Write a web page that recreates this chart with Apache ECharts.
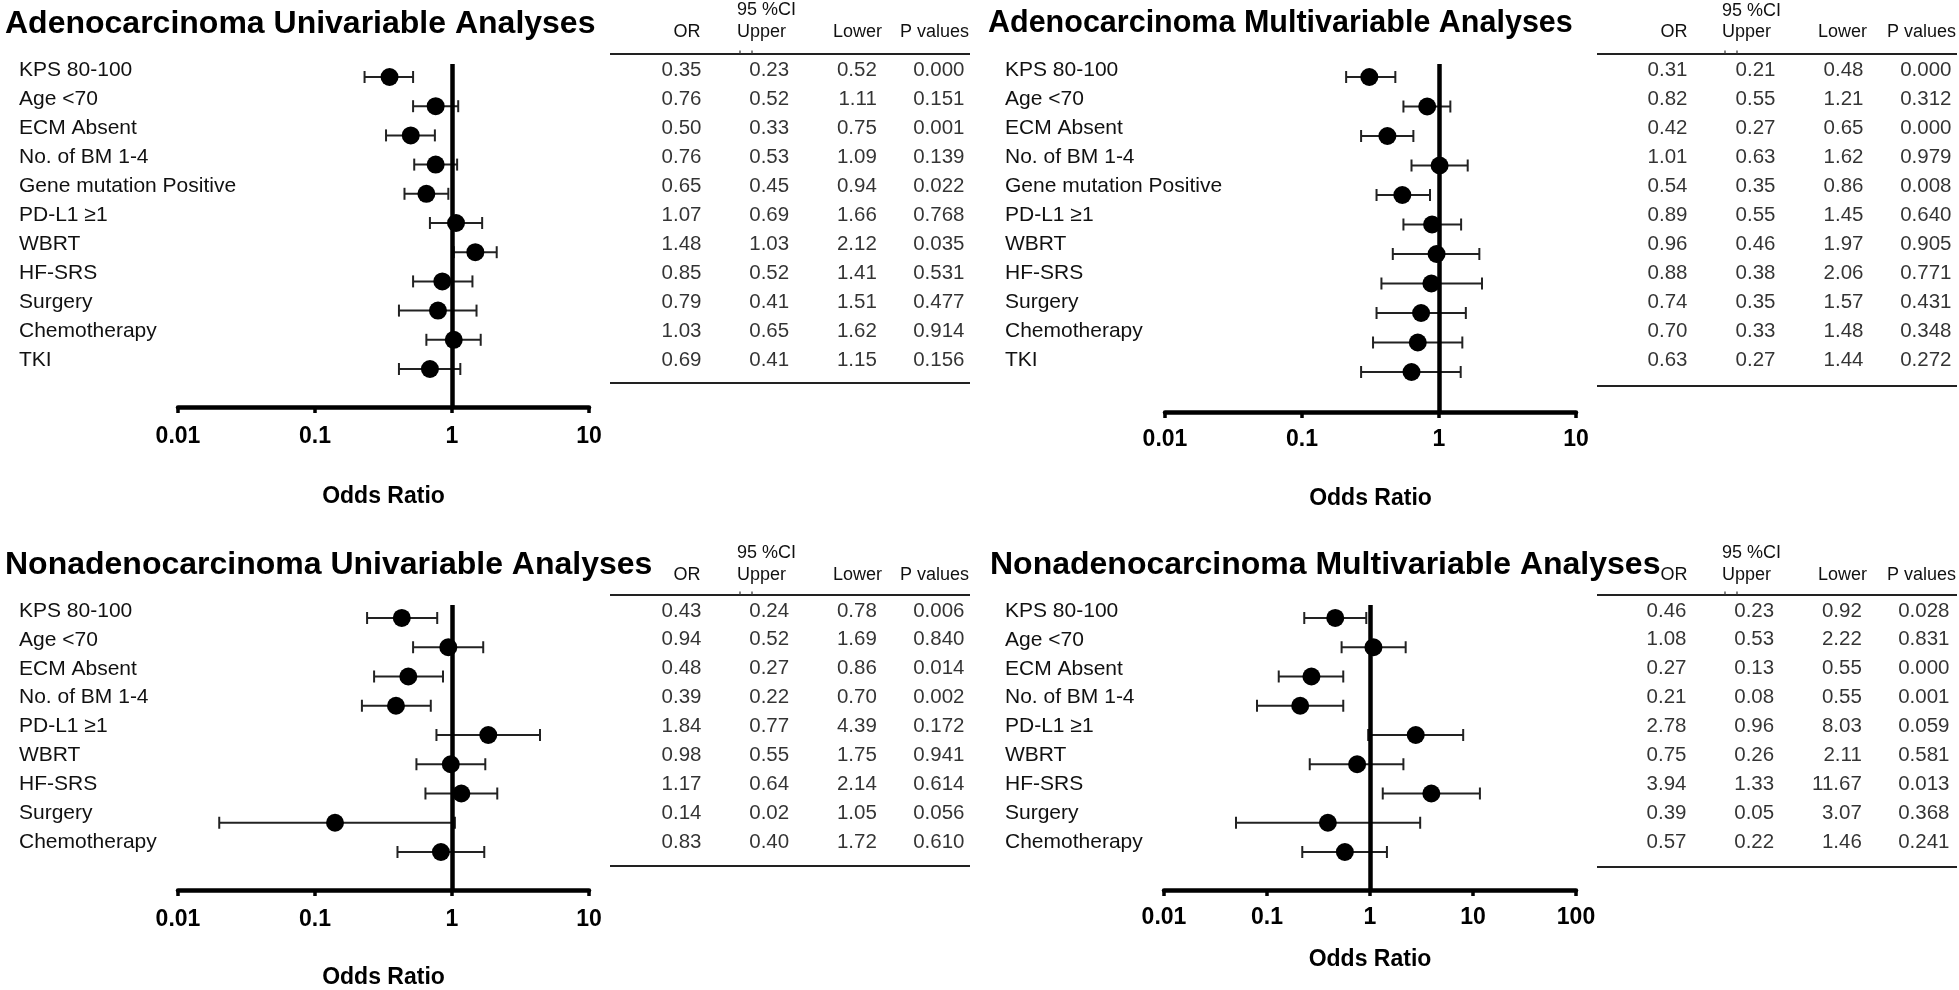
<!DOCTYPE html>
<html>
<head>
<meta charset="utf-8">
<script src="https://cdn.jsdelivr.net/npm/echarts@6/dist/echarts.min.js"></script>
<style>
html,body{margin:0;padding:0;background:#fff;}
#chart{width:1959px;height:990px;}
</style>
</head>
<body>
<div id="chart"></div>
<script>
// ---------- data ----------
const rowsAdeno = ['KPS 80-100','Age <70','ECM Absent','No. of BM 1-4','Gene mutation Positive','PD-L1 ≥1','WBRT','HF-SRS','Surgery','Chemotherapy','TKI'];
const rowsNonAdeno = ['KPS 80-100','Age <70','ECM Absent','No. of BM 1-4','PD-L1 ≥1','WBRT','HF-SRS','Surgery','Chemotherapy'];
const tableColumns = ['OR','Upper','Lower','P values'];
const xTicksTo10 = [0.01,0.1,1,10];
const xTicksTo100 = [0.01,0.1,1,10,100];

const adenoUniOR  = [0.35,0.76,0.50,0.76,0.65,1.07,1.48,0.85,0.79,1.03,0.69];
const adenoUniLo  = [0.23,0.52,0.33,0.53,0.45,0.69,1.03,0.52,0.41,0.65,0.41];
const adenoUniHi  = [0.52,1.11,0.75,1.09,0.94,1.66,2.12,1.41,1.51,1.62,1.15];
const adenoUniP   = [0.000,0.151,0.001,0.139,0.022,0.768,0.035,0.531,0.477,0.914,0.156];

const adenoMultiOR = [0.31,0.82,0.42,1.01,0.54,0.89,0.96,0.88,0.74,0.70,0.63];
const adenoMultiLo = [0.21,0.55,0.27,0.63,0.35,0.55,0.46,0.38,0.35,0.33,0.27];
const adenoMultiHi = [0.48,1.21,0.65,1.62,0.86,1.45,1.97,2.06,1.57,1.48,1.44];
const adenoMultiP  = [0.000,0.312,0.000,0.979,0.008,0.640,0.905,0.771,0.431,0.348,0.272];

const nonUniOR = [0.43,0.94,0.48,0.39,1.84,0.98,1.17,0.14,0.83];
const nonUniLo = [0.24,0.52,0.27,0.22,0.77,0.55,0.64,0.02,0.40];
const nonUniHi = [0.78,1.69,0.86,0.70,4.39,1.75,2.14,1.05,1.72];
const nonUniP  = [0.006,0.840,0.014,0.002,0.172,0.941,0.614,0.056,0.610];

const nonMultiOR = [0.46,1.08,0.27,0.21,2.78,0.75,3.94,0.39,0.57];
const nonMultiLo = [0.23,0.53,0.13,0.08,0.96,0.26,1.33,0.05,0.22];
const nonMultiHi = [0.92,2.22,0.55,0.55,8.03,2.11,11.67,3.07,1.46];
const nonMultiP  = [0.028,0.831,0.000,0.001,0.059,0.581,0.013,0.368,0.241];

// ---------- layout ----------
const FONT = '"Liberation Sans", Arial, sans-serif';
const panels = [
  { title:'Adenocarcinoma Univariable Analyses', rows:rowsAdeno, or:adenoUniOR, lo:adenoUniLo, hi:adenoUniHi, p:adenoUniP, ticks:xTicksTo10,
    titleX:5, titleY:24, titleSize:32,
    dg:{left:178, top:64, width:411, height:343}, yMin:-0.445, yMax:11.301, labMargin:18, nameGap:78,
    tg:{left:702, top:55.5, width:263, height:319}, rowLabelX:19,
    hdr:{y95:10, y:32, orX:687, upX:737, loX:833, pX:900}, rule:{x1:610, x2:970, yTop:54, yBot:383} },
  { title:'Adenocarcinoma Multivariable Analyses', rows:rowsAdeno, or:adenoMultiOR, lo:adenoMultiLo, hi:adenoMultiHi, p:adenoMultiP, ticks:xTicksTo10,
    titleX:988, titleY:24, titleSize:30.5,
    dg:{left:1165, top:64, width:411, height:348}, yMin:-0.441, yMax:11.356, labMargin:16, nameGap:75,
    tg:{left:1688, top:55.5, width:264, height:319}, rowLabelX:1005,
    hdr:{y95:11, y:32, orX:1674, upX:1722, loX:1818, pX:1887}, rule:{x1:1597, x2:1957, yTop:54, yBot:386} },
  { title:'Nonadenocarcinoma Univariable Analyses', rows:rowsNonAdeno, or:nonUniOR, lo:nonUniLo, hi:nonUniHi, p:nonUniP, ticks:xTicksTo10,
    titleX:5, titleY:565, titleSize:32,
    dg:{left:178, top:605, width:411, height:285}, yMin:-0.444, yMax:9.299, labMargin:18, nameGap:76,
    tg:{left:702, top:596.5, width:263, height:260}, rowLabelX:19,
    hdr:{y95:553, y:575, orX:687, upX:737, loX:833, pX:900}, rule:{x1:610, x2:970, yTop:595, yBot:866} },
  { title:'Nonadenocarcinoma Multivariable Analyses', rows:rowsNonAdeno, or:nonMultiOR, lo:nonMultiLo, hi:nonMultiHi, p:nonMultiP, ticks:xTicksTo100,
    titleX:990, titleY:565, titleSize:32,
    dg:{left:1164, top:605, width:412, height:285}, yMin:-0.444, yMax:9.299, labMargin:16, nameGap:58,
    tg:{left:1687, top:596.5, width:263, height:260}, rowLabelX:1005,
    hdr:{y95:553, y:575, orX:1674, upX:1722, loX:1818, pX:1887}, rule:{x1:1597, x2:1957, yTop:595, yBot:867} }
];

const grid = [], xAxis = [], yAxis = [], series = [], graphic = [];

panels.forEach((P, k) => {
  const gData = grid.length;
  grid.push(Object.assign({containLabel:false}, P.dg));
  const gTab = grid.length;
  grid.push(Object.assign({containLabel:false}, P.tg));

  // data grid axes
  const xData = xAxis.length;
  xAxis.push({
    type:'log', logBase:10, gridIndex:gData,
    min:P.ticks[0], max:P.ticks[P.ticks.length-1],
    axisLine:{show:true, onZero:false, lineStyle:{color:'#000', width:4.5}},
    axisTick:{show:true, length:6, lineStyle:{color:'#000', width:3.5}},
    minorTick:{show:false}, splitLine:{show:false},
    axisLabel:{show:true, margin:P.labMargin, fontFamily:FONT, fontWeight:'bold', fontSize:23, color:'#000',
      formatter:v => String(+Number(v).toPrecision(2))},
    name:'Odds Ratio', nameLocation:'middle', nameGap:P.nameGap,
    nameTextStyle:{fontFamily:FONT, fontWeight:'bold', fontSize:23, color:'#000'}
  });
  const yData = yAxis.length;
  yAxis.push({type:'value', gridIndex:gData, inverse:true, min:P.yMin, max:P.yMax, show:false});

  // table grid axes
  const xTab = xAxis.length;
  xAxis.push({type:'category', gridIndex:gTab, data:tableColumns, boundaryGap:false, show:false});
  const yTab = yAxis.length;
  yAxis.push({
    type:'category', gridIndex:gTab, data:P.rows, inverse:true, boundaryGap:true,
    axisLine:{show:false}, axisTick:{show:false}, splitLine:{show:false},
    axisLabel:{show:true, interval:0, align:'left', margin:P.tg.left - P.rowLabelX,
      fontFamily:FONT, fontSize:21, color:'#111'}
  });

  // error bars
  series.push({
    type:'custom', xAxisIndex:xData, yAxisIndex:yData, z:3, silent:true,
    data:P.rows.map((r,i) => [P.lo[i], P.hi[i], i]),
    encode:{x:[0,1], y:2},
    renderItem:(params, api) => {
      const a = api.coord([api.value(0), api.value(2)]);
      const b = api.coord([api.value(1), api.value(2)]);
      const cap = 6;
      const st = {stroke:'#222', lineWidth:2};
      return {type:'group', children:[
        {type:'line', shape:{x1:a[0], y1:a[1], x2:b[0], y2:b[1]}, style:st},
        {type:'line', shape:{x1:a[0], y1:a[1]-cap, x2:a[0], y2:a[1]+cap}, style:st},
        {type:'line', shape:{x1:b[0], y1:b[1]-cap, x2:b[0], y2:b[1]+cap}, style:st}
      ]};
    }
  });
  // points + reference line at OR = 1
  series.push({
    type:'scatter', xAxisIndex:xData, yAxisIndex:yData, z:4, silent:true,
    symbol:'circle', symbolSize:18, itemStyle:{color:'#000', opacity:1},
    data:P.or.map((v,i) => [v, i]),
    markLine:{silent:true, symbol:'none', label:{show:false}, animation:false,
      lineStyle:{color:'#000', width:4.5, type:'solid'}, data:[{xAxis:1}]}
  });
  // table values
  const cols = [P.or.map(v=>v.toFixed(2)), P.lo.map(v=>v.toFixed(2)), P.hi.map(v=>v.toFixed(2)), P.p.map(v=>v.toFixed(3))];
  const tdata = [];
  cols.forEach((col, c) => col.forEach((txt, r) => tdata.push({value:[c, r], txt:txt})));
  series.push({
    type:'scatter', xAxisIndex:xTab, yAxisIndex:yTab, silent:true,
    symbol:'circle', symbolSize:1, itemStyle:{color:'rgba(0,0,0,0)'},
    data:tdata,
    label:{show:true, position:'left', distance:0, fontFamily:FONT, fontSize:20.5, color:'#000',
      formatter:p => p.data.txt}
  });

  // titles, headers, rules
  graphic.push({type:'text', x:P.titleX, y:P.titleY, silent:true,
    style:{text:P.title, font:'bold ' + P.titleSize + 'px ' + FONT, fill:'#000', align:'left', verticalAlign:'middle'}});
  const hf = '18px ' + FONT;
  const H = P.hdr;
  graphic.push({type:'text', x:H.upX, y:H.y95, silent:true, style:{text:'95 %CI', font:hf, fill:'#111', align:'left', verticalAlign:'middle'}});
  graphic.push({type:'text', x:H.orX, y:H.y, silent:true, style:{text:'OR', font:hf, fill:'#111', align:'center', verticalAlign:'middle'}});
  graphic.push({type:'text', x:H.upX, y:H.y, silent:true, style:{text:'Upper', font:hf, fill:'#111', align:'left', verticalAlign:'middle'}});
  graphic.push({type:'text', x:H.loX, y:H.y, silent:true, style:{text:'Lower', font:hf, fill:'#111', align:'left', verticalAlign:'middle'}});
  graphic.push({type:'text', x:H.pX, y:H.y, silent:true, style:{text:'P values', font:hf, fill:'#111', align:'left', verticalAlign:'middle'}});
  const R = P.rule;
  graphic.push({type:'line', silent:true, shape:{x1:R.x1, y1:R.yTop, x2:R.x2, y2:R.yTop}, style:{stroke:'#222', lineWidth:2}});
  graphic.push({type:'line', silent:true, shape:{x1:R.x1, y1:R.yBot, x2:R.x2, y2:R.yBot}, style:{stroke:'#222', lineWidth:2}});
  graphic.push({type:'line', silent:true, shape:{x1:H.upX+3, y1:R.yTop-3.5, x2:H.upX+3, y2:R.yTop}, style:{stroke:'#333', lineWidth:1.2}});
  graphic.push({type:'line', silent:true, shape:{x1:H.upX+15, y1:R.yTop-3.5, x2:H.upX+15, y2:R.yTop}, style:{stroke:'#333', lineWidth:1.2}});
});

const chart = echarts.init(document.getElementById('chart'), null, {renderer:'canvas'});
chart.setOption({
  animation:false,
  backgroundColor:'#fff',
  grid, xAxis, yAxis, series, graphic
});
</script>
</body>
</html>
